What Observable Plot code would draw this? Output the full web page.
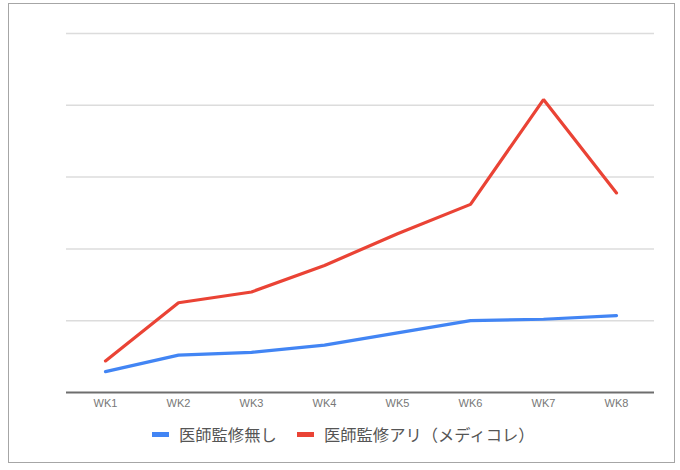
<!DOCTYPE html>
<html>
<head>
<meta charset="utf-8">
<script src="https://cdn.jsdelivr.net/npm/d3@7"></script>
<script src="https://cdn.jsdelivr.net/npm/@observablehq/plot@0.6"></script>
<style>
  html, body { margin: 0; padding: 0; background: #fff; }
  #wrap { position: relative; width: 680px; height: 470px; overflow: hidden; }
  #border { position: absolute; left: 8px; top: 3px; width: 667px; height: 460px; border: 1.5px solid #a6a6a6; box-sizing: border-box; pointer-events: none; }
  #legend { position: absolute; left: 0; top: 423px; width: 680px; height: 22px; font-family: "Noto Sans CJK JP", "Liberation Sans", sans-serif; font-size: 16.3px; color: #555; }
  .item { position: absolute; top: 0; display: flex; align-items: center; height: 22px; white-space: nowrap; }
  .sw { display: inline-block; width: 17px; height: 5px; margin-right: 10px; }
</style>
</head>
<body>
<div id="wrap">
  <div id="chart"></div>
  <div id="border"></div>
  <div id="legend"></div>
</div>
<script>
const weeks = ["WK1", "WK2", "WK3", "WK4", "WK5", "WK6", "WK7", "WK8"];
const seriesNames = ["医師監修無し", "医師監修アリ（メディコレ）"];
const seriesColors = ["#4285f4", "#ea4335"];
const noSupervision = [29, 52, 56, 66, 83, 100, 102, 107];
const withSupervision = [44, 125, 140, 177, 221, 262, 408, 278];
const gridValues = [100, 200, 300, 400, 500];

const rows = [];
weeks.forEach((w, i) => {
  rows.push({week: w, value: noSupervision[i], series: seriesNames[0]});
});
weeks.forEach((w, i) => {
  rows.push({week: w, value: withSupervision[i], series: seriesNames[1]});
});

const chart = Plot.plot({
  width: 680,
  height: 470,
  marginLeft: 66,
  marginRight: 26,
  marginTop: 33,
  marginBottom: 78,
  style: {fontFamily: "'Liberation Sans', Arial, sans-serif", fontSize: "11px", color: "#777", background: "transparent"},
  x: {type: "point", domain: weeks, padding: 0.5, label: null, tickSize: 0, tickPadding: 7},
  y: {domain: [0, 500], axis: null},
  color: {domain: seriesNames, range: seriesColors},
  marks: [
    Plot.ruleY(gridValues, {stroke: "#dcdcdc", strokeWidth: 1.5}),
    Plot.ruleY([0], {stroke: "#6e6e6e", strokeWidth: 2}),
    Plot.line(rows, {x: "week", y: "value", z: "series", stroke: "series", strokeWidth: 3.2, strokeLinejoin: "miter"})
  ]
});
document.getElementById("chart").appendChild(chart);

const legend = document.getElementById("legend");
const positions = [152, 297];
seriesNames.forEach((name, i) => {
  const item = document.createElement("div");
  item.className = "item";
  item.style.left = positions[i] + "px";
  const sw = document.createElement("span");
  sw.className = "sw";
  sw.style.background = seriesColors[i];
  const label = document.createElement("span");
  label.textContent = name;
  item.appendChild(sw);
  item.appendChild(label);
  legend.appendChild(item);
});
</script>
</body>
</html>
